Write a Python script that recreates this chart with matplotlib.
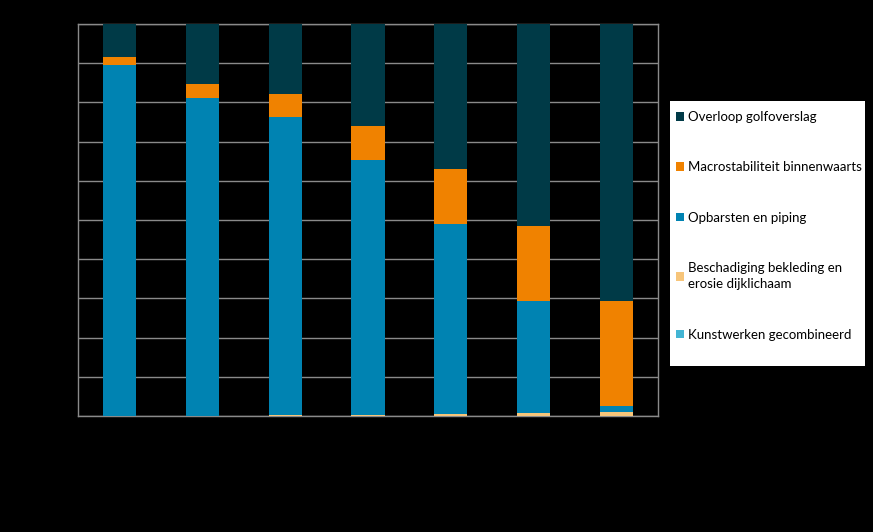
import matplotlib.pyplot as plt
from matplotlib.patches import Patch, Rectangle
import numpy as np

plt.rcParams['font.family'] = ['Lato', 'DejaVu Sans']

# categories (labels not visible in the reference)
categories = ['1', '2', '3', '4', '5', '6', '7']

# shares per failure mechanism, in %
kunstwerken = [0.0, 0.0, 0.0, 0.0, 0.0, 0.0, 0.0]
bekleding = [0.1, 0.1, 0.2, 0.2, 0.5, 0.7, 1.0]
piping = [89.4, 81.0, 76.1, 65.1, 48.5, 28.6, 1.5]
macro = [2.1, 3.6, 5.8, 8.7, 14.0, 19.2, 26.8]
overloop = [8.4, 15.3, 17.9, 26.0, 37.0, 51.5, 70.7]

series = [
    ('Kunstwerken gecombineerd', kunstwerken, '#43b5d4'),
    ('Beschadiging bekleding en\nerosie dijklichaam', bekleding, '#f7c57a'),
    ('Opbarsten en piping', piping, '#0083b2'),
    ('Macrostabiliteit binnenwaarts', macro, '#f08200'),
    ('Overloop golfoverslag', overloop, '#003a47'),
]

W, H = 873, 532
fig = plt.figure(figsize=(W / 100, H / 100), dpi=100, facecolor='black')
ax = fig.add_axes([78 / W, 1 - 416 / H, 580 / W, 392 / H])
ax.set_facecolor('black')

x = np.arange(len(categories))
bottom = np.zeros(len(categories))
for name, vals, col in series:
    ax.bar(x, vals, 0.4, bottom=bottom, color=col, zorder=3)
    bottom += np.array(vals)

ax.set_xlim(-0.5, len(categories) - 0.5)
ax.set_ylim(0, 100)
ax.set_yticks(np.arange(0, 101, 10))
ax.grid(axis='y', color='#8a8a8a', linewidth=1, zorder=0)
ax.tick_params(length=0, labelcolor='black')
ax.set_xticks(x)
ax.set_xticklabels(categories)
for s in ax.spines.values():
    s.set_color('#8a8a8a')
    s.set_linewidth(1)

# white legend box
fig.patches.append(Rectangle((670 / W, 1 - 366 / H), 195 / W, 265 / H,
                             transform=fig.transFigure, facecolor='white',
                             edgecolor='none', zorder=1))

handles = [Patch(facecolor=col, label=name) for name, vals, col in series[::-1]]
leg = fig.legend(handles=handles, loc='upper left',
                 bbox_to_anchor=(676 / W, 1 - 111 / H), fontsize=9.5,
                 frameon=False, labelspacing=2.9,
                 handlelength=0.6, handleheight=0.6,
                 handletextpad=0.3, borderpad=0, borderaxespad=0)
leg.set_zorder(2)
for t in leg.get_texts():
    t.set_linespacing(1.45)

fig.savefig('out.png', dpi=100, facecolor='black')
